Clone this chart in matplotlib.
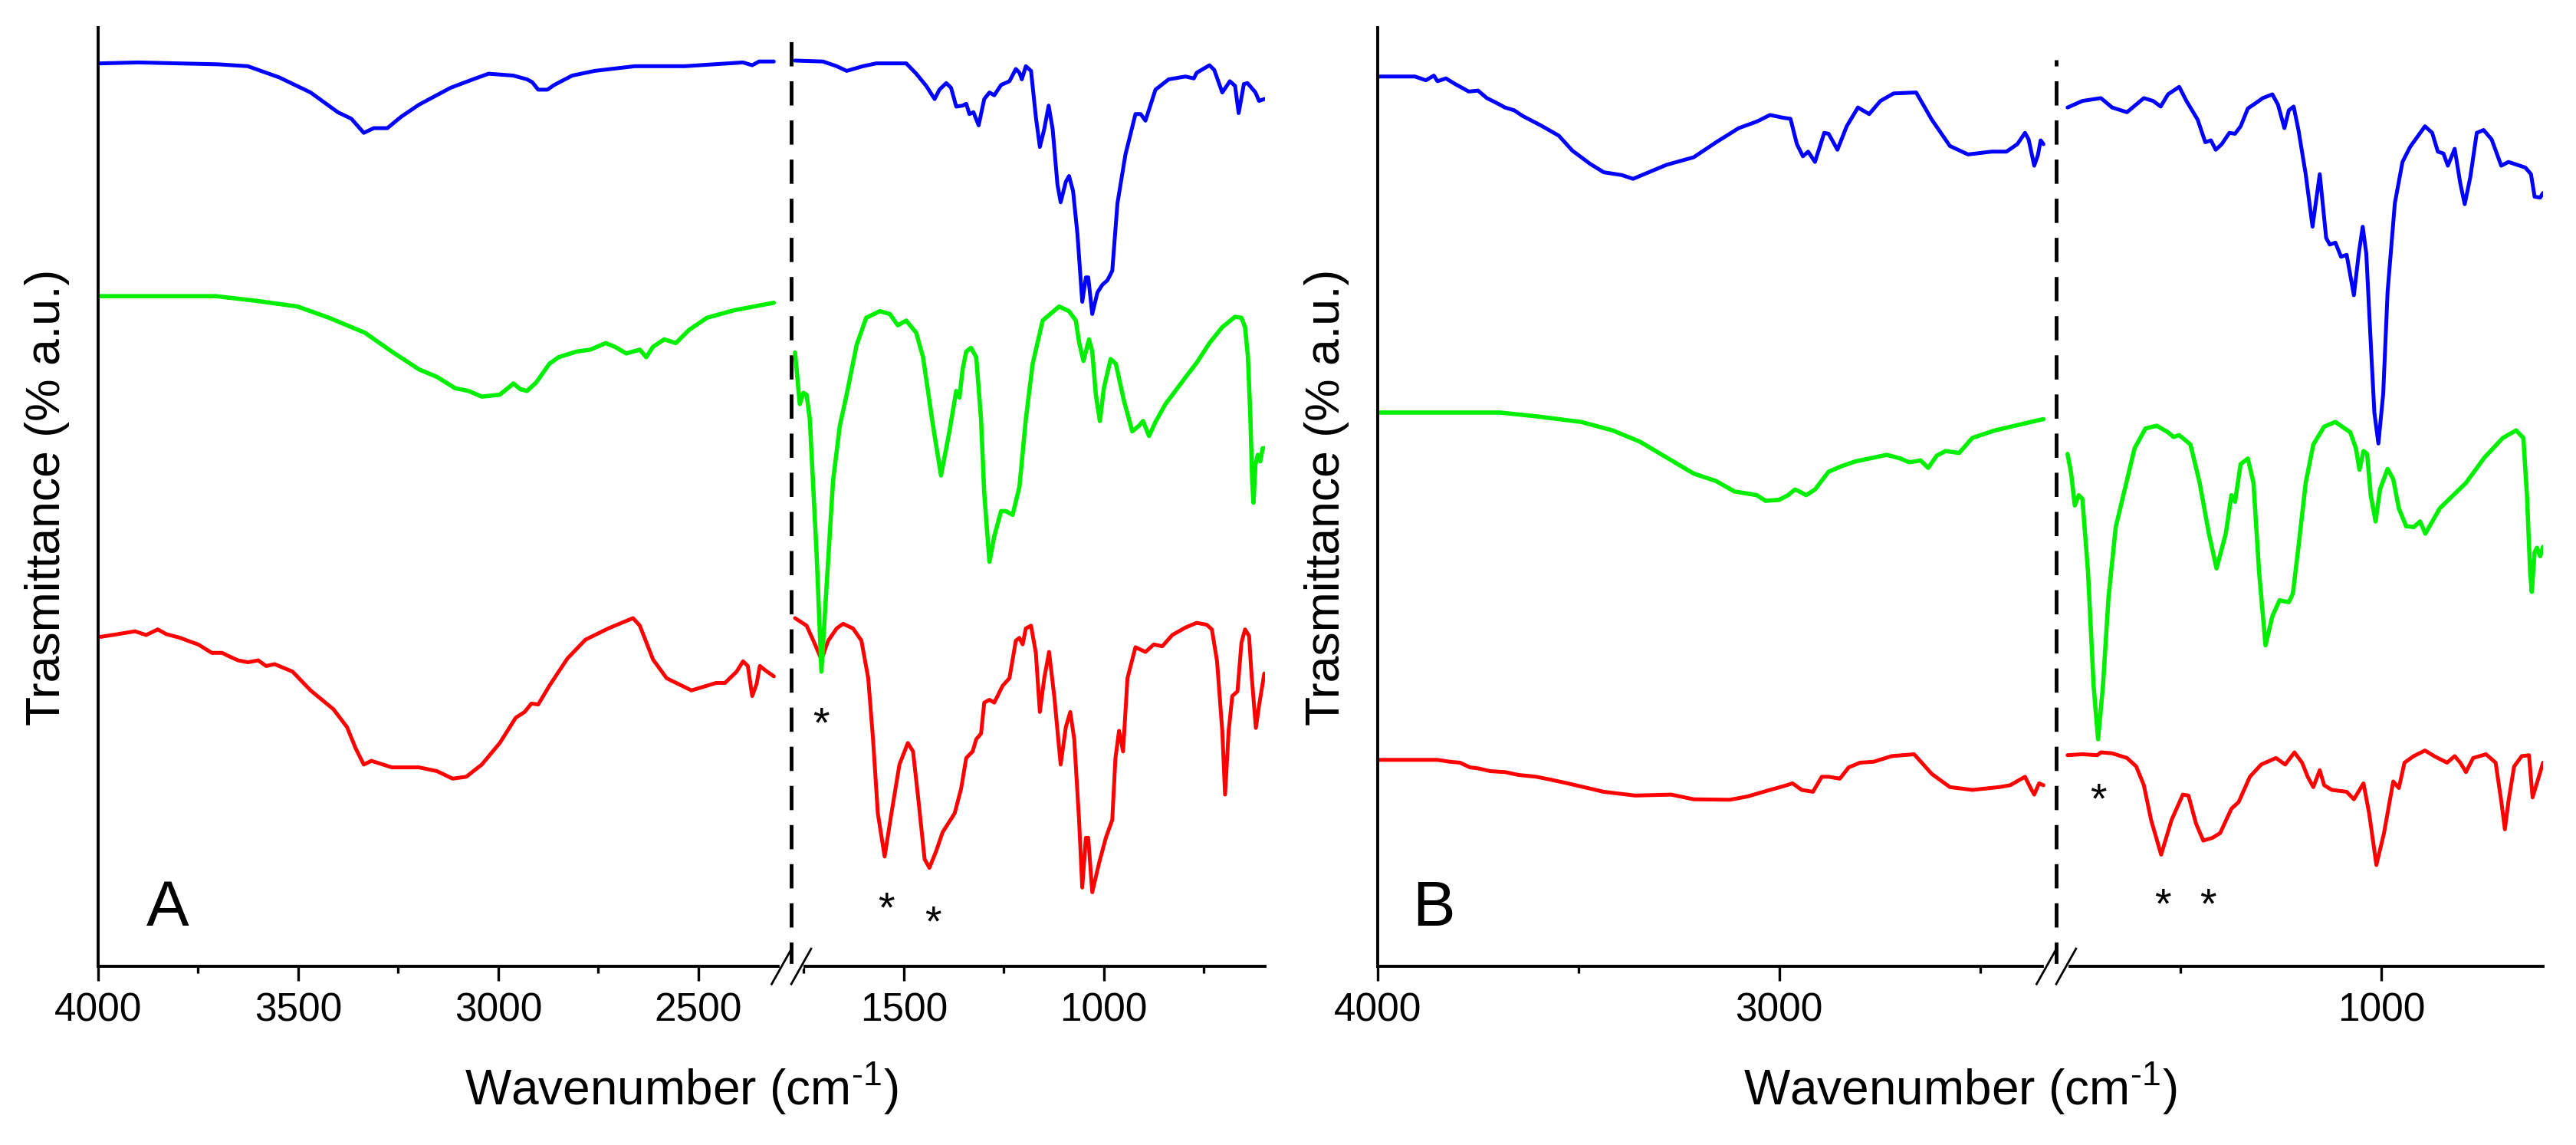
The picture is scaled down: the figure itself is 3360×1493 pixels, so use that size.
import numpy as np
import matplotlib
matplotlib.use("Agg")
import matplotlib.pyplot as plt
from matplotlib.ticker import FixedLocator, StrMethodFormatter

plt.rcParams["font.family"] = ["Liberation Sans", "DejaVu Sans"]
plt.rcParams["mathtext.fontset"] = "custom"
plt.rcParams["mathtext.rm"] = "Liberation Sans"

# spectra: (wavenumber cm-1, transmittance a.u.)
A_BLUE = np.array([
    (3995, 96.2), (3900, 96.3), (3800, 96.2), (3700, 96.1), (3626, 95.9), (3547, 94.7),
    (3469, 93.1), (3401, 91.0), (3367, 90.3), (3336, 88.8), (3311, 89.3), (3277, 89.3),
    (3243, 90.5), (3198, 91.8), (3119, 93.6), (3063, 94.5), (3024, 95.1), (2962, 94.9),
    (2928, 94.5), (2915, 94.2), (2900, 93.4), (2877, 93.4), (2860, 93.9), (2815, 94.9),
    (2759, 95.4), (2658, 95.9), (2534, 95.9), (2388, 96.3), (2365, 96.0), (2348, 96.4),
    (2311, 96.4),
    (1772, 96.5), (1702, 96.4), (1668, 95.9), (1643, 95.4), (1602, 95.9), (1569, 96.2),
    (1494, 96.2), (1469, 95.1), (1444, 93.8), (1423, 92.4), (1411, 93.4), (1394, 94.1),
    (1382, 93.6), (1369, 91.6), (1353, 91.7), (1344, 91.9), (1336, 90.8), (1326, 91.0),
    (1313, 89.6), (1299, 92.4), (1286, 93.1), (1274, 92.8), (1257, 93.9), (1236, 94.3),
    (1220, 95.6), (1211, 95.2), (1205, 94.5), (1195, 95.9), (1182, 95.4), (1170, 90.5),
    (1160, 87.3), (1149, 89.2), (1138, 91.7), (1128, 89.2), (1116, 83.3), (1108, 81.4),
    (1095, 83.6), (1087, 84.2), (1077, 82.6), (1066, 78.0), (1054, 70.8), (1045, 73.4),
    (1039, 73.4), (1029, 69.5), (1016, 71.8), (1004, 72.6), (991, 73.1), (979, 74.1),
    (966, 81.3), (946, 86.5), (921, 90.8), (908, 90.8), (896, 90.1), (871, 93.4),
    (838, 94.5), (796, 94.8), (775, 94.6), (768, 95.2), (736, 96.0), (724, 95.5),
    (704, 93.1), (685, 94.3), (672, 93.8), (663, 90.9), (650, 94.0), (641, 94.1),
    (621, 93.1), (612, 92.2), (599, 92.4),
])

A_GREEN = np.array([
    (3995, 71.4), (3705, 71.4), (3604, 70.9), (3502, 70.3), (3423, 69.1), (3333, 67.5),
    (3266, 65.5), (3198, 63.6), (3153, 62.8), (3108, 61.6), (3074, 61.3), (3041, 60.7),
    (2996, 60.9), (2973, 61.7), (2962, 62.1), (2945, 61.5), (2928, 61.3), (2905, 62.2),
    (2872, 64.2), (2849, 64.9), (2804, 65.5), (2770, 65.7), (2731, 66.4), (2708, 66.0),
    (2680, 65.3), (2646, 65.7), (2630, 64.9), (2613, 66.0), (2585, 66.8), (2556, 66.4),
    (2523, 67.8), (2478, 69.1), (2410, 69.9), (2311, 70.7),
    (1772, 65.4), (1760, 59.9), (1751, 61.1), (1743, 60.9), (1735, 58.3), (1718, 43.9),
    (1706, 31.4), (1693, 40.6), (1677, 51.7), (1660, 57.6), (1643, 60.9), (1618, 66.2),
    (1594, 69.1), (1560, 69.8), (1535, 69.5), (1515, 68.3), (1494, 68.8), (1469, 67.5),
    (1452, 64.9), (1427, 57.6), (1407, 52.3), (1386, 57.0), (1369, 61.3), (1361, 60.6),
    (1353, 63.6), (1344, 65.5), (1332, 65.9), (1319, 64.9), (1307, 58.3), (1299, 50.4),
    (1286, 43.1), (1274, 45.8), (1257, 48.5), (1245, 48.5), (1228, 48.1), (1211, 51.1),
    (1195, 58.3), (1178, 64.2), (1153, 68.8), (1112, 70.3), (1087, 69.8), (1070, 68.8),
    (1062, 66.5), (1051, 64.5), (1037, 66.8), (1029, 65.5), (1020, 60.9), (1010, 58.1),
    (1000, 61.6), (983, 64.7), (970, 64.2), (950, 60.3), (929, 57.0), (912, 57.6),
    (902, 58.1), (887, 56.5), (871, 58.0), (846, 59.9), (788, 63.2), (768, 64.3),
    (736, 66.4), (704, 68.1), (672, 69.2), (656, 69.1), (647, 68.1), (640, 65.0),
    (634, 58.9), (629, 51.5), (626, 49.4), (621, 53.5), (615, 54.5), (609, 53.8),
    (603, 55.2), (599, 55.2),
])

A_RED = np.array([
    (3995, 35.1), (3950, 35.4), (3908, 35.7), (3880, 35.3), (3851, 35.9), (3830, 35.4),
    (3795, 35.0), (3770, 34.6), (3750, 34.3), (3716, 33.4), (3690, 33.4), (3671, 33.0),
    (3650, 32.6), (3626, 32.4), (3600, 32.6), (3580, 32.0), (3559, 32.2), (3514, 31.4),
    (3469, 29.4), (3412, 27.4), (3378, 25.5), (3356, 23.2), (3336, 21.5), (3317, 21.9),
    (3266, 21.2), (3198, 21.2), (3153, 20.8), (3114, 20.0), (3080, 20.2), (3041, 21.5),
    (2996, 23.8), (2956, 26.5), (2934, 27.1), (2917, 28.0), (2900, 27.9), (2872, 29.9),
    (2827, 32.8), (2782, 34.8), (2725, 36.0), (2663, 37.1), (2646, 36.3), (2613, 32.7),
    (2579, 30.7), (2517, 29.4), (2455, 30.2), (2433, 30.2), (2404, 31.4), (2388, 32.5),
    (2376, 32.0), (2365, 28.8), (2354, 30.1), (2346, 32.0), (2331, 31.5), (2311, 30.9),
    (1772, 37.1), (1743, 36.3), (1722, 34.3), (1706, 32.7), (1689, 34.7), (1668, 36.0),
    (1652, 36.5), (1627, 36.0), (1606, 34.7), (1589, 30.7), (1577, 24.2), (1565, 16.3),
    (1548, 11.7), (1531, 16.3), (1511, 21.5), (1490, 23.8), (1477, 22.9), (1465, 18.3),
    (1448, 11.4), (1436, 10.5), (1419, 12.3), (1403, 14.3), (1373, 16.3), (1357, 18.9),
    (1344, 22.2), (1328, 22.9), (1319, 24.2), (1307, 24.8), (1299, 28.1), (1286, 28.4),
    (1274, 28.1), (1253, 29.9), (1236, 30.7), (1220, 34.7), (1211, 35.0), (1203, 34.3),
    (1195, 36.0), (1182, 36.3), (1170, 33.4), (1160, 27.1), (1149, 30.7), (1137, 33.5),
    (1124, 28.8), (1108, 21.5), (1095, 25.5), (1084, 27.1), (1074, 24.2), (1062, 15.6),
    (1054, 8.4), (1045, 13.7), (1039, 13.7), (1029, 7.9), (1012, 11.0), (995, 13.7),
    (979, 15.6), (971, 22.2), (962, 25.1), (952, 22.9), (941, 30.7), (921, 34.0),
    (896, 33.5), (875, 34.3), (854, 34.1), (829, 35.3), (796, 36.1), (768, 36.6),
    (743, 36.4), (730, 35.9), (717, 32.5), (704, 25.1), (697, 18.3), (688, 25.1),
    (679, 28.8), (666, 29.3), (656, 34.5), (647, 35.9), (637, 35.2), (631, 31.2),
    (620, 25.4), (612, 27.8), (599, 31.2),
])

B_BLUE = np.array([
    (3997, 94.8), (3907, 94.8), (3880, 94.4), (3860, 94.9), (3851, 94.3), (3830, 94.6),
    (3807, 94.0), (3773, 93.2), (3750, 93.3), (3728, 92.5), (3700, 91.9), (3683, 91.5),
    (3660, 91.2), (3639, 90.6), (3594, 89.6), (3549, 88.5), (3515, 86.9), (3471, 85.5),
    (3437, 84.6), (3392, 84.3), (3364, 83.9), (3325, 84.6), (3280, 85.4), (3213, 86.2),
    (3157, 87.8), (3101, 89.3), (3056, 90.0), (3023, 90.7), (2989, 90.4), (2972, 90.3),
    (2956, 87.6), (2941, 86.3), (2928, 86.8), (2911, 85.7), (2888, 88.8), (2877, 88.7),
    (2855, 87.0), (2832, 89.5), (2804, 91.5), (2776, 90.8), (2748, 92.2), (2715, 93.0),
    (2659, 93.1), (2620, 90.2), (2575, 87.4), (2530, 86.5), (2471, 86.8), (2434, 86.8),
    (2407, 87.6), (2388, 88.8), (2379, 88.1), (2365, 85.3), (2356, 86.4), (2349, 88.0),
    (2342, 87.6),
    (1781, 91.5), (1744, 92.2), (1698, 92.5), (1670, 91.5), (1633, 91.0), (1591, 92.5),
    (1568, 92.2), (1549, 91.6), (1531, 92.9), (1503, 93.7), (1485, 92.2), (1457, 90.2),
    (1438, 87.8), (1424, 88.0), (1412, 87.0), (1397, 87.6), (1378, 88.8), (1364, 88.7),
    (1350, 89.5), (1332, 91.4), (1308, 92.1), (1295, 92.5), (1271, 92.9), (1257, 91.8),
    (1241, 89.3), (1230, 91.2), (1218, 91.6), (1206, 89.1), (1188, 84.4), (1171, 78.8),
    (1153, 84.4), (1137, 77.6), (1128, 76.9), (1114, 77.1), (1100, 75.6), (1086, 75.8),
    (1068, 71.5), (1056, 75.9), (1046, 78.8), (1037, 75.9), (1026, 66.4), (1017, 59.0),
    (1007, 55.7), (995, 61.0), (984, 71.9), (966, 81.3), (947, 85.7), (928, 87.3),
    (891, 89.5), (873, 88.8), (859, 86.8), (845, 86.6), (834, 85.3), (817, 87.1),
    (803, 83.4), (792, 81.2), (778, 84.1), (762, 88.8), (745, 89.1), (725, 88.1),
    (701, 85.3), (683, 85.7), (669, 85.5), (641, 85.1), (627, 84.4), (618, 82.0),
    (604, 81.9), (597, 82.4),
])

B_GREEN = np.array([
    (3997, 59.0), (3695, 59.0), (3605, 58.6), (3493, 58.0), (3415, 57.1), (3347, 55.9),
    (3280, 54.2), (3213, 52.5), (3157, 51.7), (3112, 50.6), (3056, 50.2), (3034, 49.6),
    (3000, 49.7), (2978, 50.2), (2961, 50.8), (2950, 50.6), (2933, 50.2), (2911, 50.8),
    (2877, 52.7), (2844, 53.3), (2810, 53.8), (2776, 54.1), (2732, 54.5), (2698, 54.1),
    (2676, 53.7), (2648, 53.9), (2629, 53.1), (2608, 54.4), (2586, 54.9), (2552, 54.7),
    (2519, 56.3), (2463, 57.1), (2353, 58.2), (2342, 58.3),
    (1781, 54.6), (1772, 52.5), (1763, 49.1), (1753, 50.2), (1744, 49.8), (1730, 42.0),
    (1716, 29.8), (1705, 24.2), (1693, 29.8), (1679, 39.3), (1661, 46.8), (1642, 50.2),
    (1614, 55.2), (1587, 57.3), (1559, 57.6), (1531, 56.9), (1517, 56.4), (1503, 56.6),
    (1475, 55.6), (1452, 51.5), (1429, 46.1), (1410, 42.4), (1387, 46.1), (1373, 50.2),
    (1364, 49.5), (1350, 53.5), (1332, 54.1), (1318, 51.5), (1304, 42.0), (1288, 34.2),
    (1271, 37.3), (1253, 39.0), (1230, 38.8), (1220, 39.7), (1206, 44.7), (1188, 51.5),
    (1169, 55.6), (1142, 57.5), (1114, 58.0), (1077, 56.9), (1063, 55.2), (1054, 52.9),
    (1044, 54.9), (1035, 54.6), (1026, 50.2), (1014, 47.4), (1003, 50.8), (984, 53.0),
    (970, 51.9), (956, 48.8), (938, 46.9), (919, 46.8), (903, 47.4), (890, 46.1),
    (854, 48.8), (789, 51.5), (743, 54.2), (697, 56.3), (664, 57.1), (646, 56.3),
    (637, 50.2), (629, 42.0), (625, 39.9), (618, 44.1), (612, 44.6), (604, 43.7),
    (597, 44.7),
])

B_RED = np.array([
    (3997, 22.0), (3900, 22.0), (3851, 22.0), (3820, 21.8), (3795, 21.7), (3770, 21.2),
    (3750, 21.1), (3720, 20.8), (3683, 20.7), (3650, 20.4), (3605, 20.2), (3570, 19.9),
    (3527, 19.5), (3437, 18.6), (3359, 18.2), (3269, 18.3), (3213, 17.8), (3123, 17.75),
    (3079, 18.1), (3023, 18.8), (2989, 19.2), (2967, 19.5), (2944, 18.8), (2916, 18.6),
    (2894, 20.2), (2877, 20.2), (2849, 20.0), (2827, 21.2), (2799, 21.7), (2765, 21.8),
    (2720, 22.4), (2664, 22.6), (2620, 20.5), (2575, 19.1), (2519, 18.8), (2452, 19.1),
    (2425, 19.3), (2388, 20.2), (2374, 19.0), (2365, 18.3), (2353, 19.5), (2342, 19.3),
    (1781, 22.5), (1744, 22.6), (1707, 22.5), (1698, 22.8), (1670, 22.7), (1633, 22.2),
    (1610, 21.3), (1591, 19.3), (1573, 15.6), (1548, 11.9), (1522, 15.6), (1494, 18.3),
    (1480, 18.2), (1461, 15.2), (1443, 13.4), (1420, 13.7), (1401, 14.2), (1373, 16.8),
    (1355, 17.5), (1327, 20.2), (1299, 21.5), (1262, 22.2), (1239, 21.5), (1216, 22.8),
    (1197, 21.7), (1183, 20.2), (1169, 19.1), (1153, 20.9), (1142, 19.3), (1123, 18.8),
    (1086, 18.6), (1068, 17.8), (1044, 19.5), (1030, 16.3), (1012, 10.8), (993, 14.2),
    (970, 19.7), (956, 19.0), (942, 21.7), (919, 22.4), (891, 23.0), (868, 22.4),
    (836, 21.7), (817, 22.4), (803, 21.7), (789, 20.7), (771, 22.2), (739, 22.6),
    (715, 21.7), (701, 17.6), (692, 14.6), (683, 17.6), (669, 21.3), (650, 22.4),
    (632, 22.5), (623, 18.0), (611, 19.7), (597, 21.7),
])

# axis breaks (upper end of the high part / lower end of the low part)
A_BREAK = (2267, 1780)
B_BREAK = (2310, 1808)

A_MAJOR = [4000, 3500, 3000, 2500, 1500, 1000]
A_MINOR = [3750, 3250, 2750, 1750, 1250, 750]
B_MAJOR = [4000, 3000, 1000]
B_MINOR = [3500, 2500, 1500]

# asterisk marks (wavenumber, height)
A_STARS = [(1706, 27.1), (1544, 7.4), (1427, 5.9)]
B_STARS = [(1705, 19.0), (1543, 7.8), (1432, 7.8)]

BLUE, GREEN, RED = "#0000FF", "#00EE00", "#FF0000"


def broken_scale(hi, lo, eps=1.0):
    # squeeze the range lo..hi into eps units, keep everything else linear
    def fwd(w):
        w = np.asarray(w, dtype=float)
        return np.where(w <= lo, w,
                        np.where(w >= hi, w - hi + lo + eps,
                                 lo + eps * (w - lo) / (hi - lo)))

    def inv(t):
        t = np.asarray(t, dtype=float)
        return np.where(t <= lo, t,
                        np.where(t >= lo + eps, t + hi - lo - eps,
                                 lo + (t - lo) / eps * (hi - lo)))
    return fwd, inv


def draw_panel(ax, curves, brk, major, minor, stars, letter, letter_x, dash_top):
    hi, lo = brk
    ax.set_xscale("function", functions=broken_scale(hi, lo))
    ax.set_xlim(4000, 597)
    ax.set_ylim(0, 100)

    for data, color, lw in curves:
        for seg in (data[data[:, 0] > hi], data[data[:, 0] < lo]):
            ax.plot(seg[:, 0], seg[:, 1], color=color, lw=lw,
                    solid_joinstyle="round", solid_capstyle="round")

    ax.plot([hi, hi], [0, dash_top], color="black", lw=3.5,
            ls=(0, (6.5, 4)), zorder=1)

    for wn, h in stars:
        ax.text(wn, h - 2.6, "*", fontsize=40, ha="center", va="baseline")

    ax.text(letter_x, 0.043, letter, transform=ax.transAxes, fontsize=60,
            ha="left", va="baseline")

    ax.xaxis.set_major_locator(FixedLocator(major))
    ax.xaxis.set_minor_locator(FixedLocator(minor))
    ax.xaxis.set_major_formatter(StrMethodFormatter("{x:.0f}"))
    ax.tick_params(axis="x", which="major", length=14, width=2.4,
                   direction="out", labelsize=37, pad=10)
    ax.tick_params(axis="x", which="minor", length=6.5, width=2.4,
                   direction="out")
    ax.set_yticks([])
    for side in ("top", "right"):
        ax.spines[side].set_visible(False)
    for side in ("left", "bottom"):
        ax.spines[side].set_linewidth(2.8)

    ax.set_xlabel("Wavenumber (cm$^{\\mathregular{\u20101}}$)", fontsize=46)
    ax.xaxis.set_label_coords(0.5, -0.100)
    ax.set_ylabel("Trasmittance (% a.u.)", fontsize=45)
    ax.yaxis.set_label_coords(-0.0243, 0.5)

    # "//" break marks on the x axis
    xb = ax.transAxes.inverted().transform(ax.transData.transform((hi, 0)))[0]
    off, dx, dy = 0.0084, 0.0085, 0.0188
    ax.plot([xb - off, xb + off], [0, 0], color="white", lw=4.5,
            transform=ax.transAxes, clip_on=False, zorder=5)
    for o in (-off, off):
        ax.plot([xb + o - dx, xb + o + dx], [-dy, dy], color="black", lw=2.0,
                transform=ax.transAxes, clip_on=False, zorder=6)


def main():
    fig = plt.figure(figsize=(33.6, 14.93), dpi=100)
    ax_a = fig.add_axes([0.0381, 0.1560, 0.4530, 0.8198])
    ax_b = fig.add_axes([0.5348, 0.1560, 0.4524, 0.8198])

    draw_panel(ax_a, [(A_RED, RED, 3.6), (A_GREEN, GREEN, 4.0), (A_BLUE, BLUE, 3.6)],
               A_BREAK, A_MAJOR, A_MINOR, A_STARS, "A", 0.041, 99.8)
    draw_panel(ax_b, [(B_RED, RED, 3.6), (B_GREEN, GREEN, 4.0), (B_BLUE, BLUE, 3.6)],
               B_BREAK, B_MAJOR, B_MINOR, B_STARS, "B", 0.030, 96.6)

    fig.savefig("out.png", dpi=100)


if __name__ == "__main__":
    main()
